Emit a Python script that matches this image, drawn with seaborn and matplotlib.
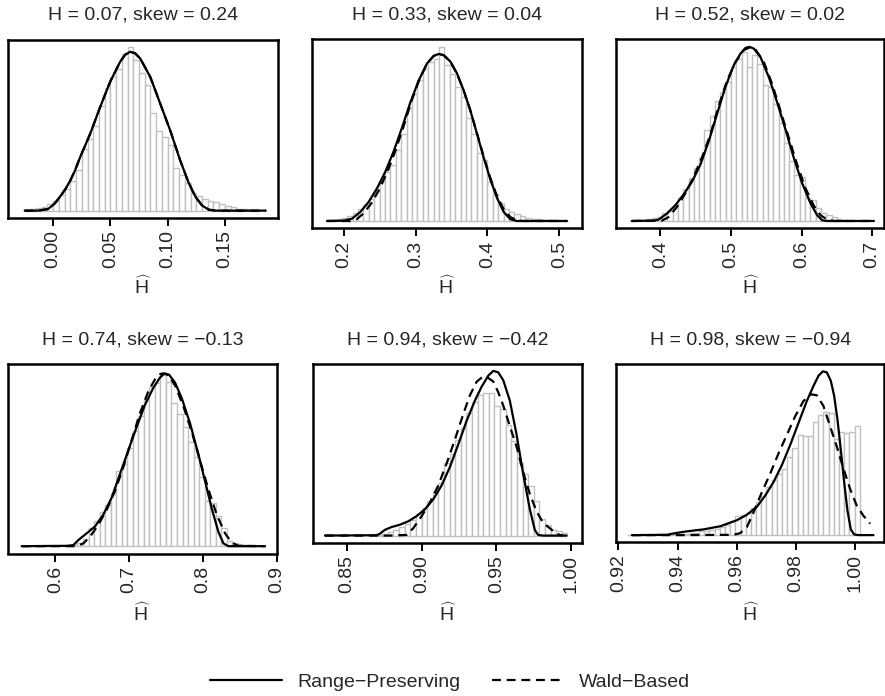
import matplotlib
matplotlib.use("Agg")
import matplotlib.pyplot as plt
import numpy as np
import pandas as pd
import seaborn as sns
from matplotlib.lines import Line2D


# panel titles
H_VALUES = [0.07, 0.33, 0.52, 0.74, 0.94, 0.98]
SKEW_VALUES = [0.24, 0.04, 0.02, -0.13, -0.42, -0.94]

# histogram bars (density, scaled so the tallest mark in a panel is ~100)
hist1_start, hist1_width = -0.025, 0.005
hist1_heights = [0.5, 0.8, 1.5, 2.5, 4, 6, 9.5, 13, 18, 25, 38, 44, 52, 64, 75, 82, 87, 96, 100,
                 92, 84, 77, 60, 49, 45, 40, 26, 22, 17, 11, 9, 7, 6, 5, 4, 3, 2, 1.2, 0.8, 0.5, 0.3]

hist2_start, hist2_width = 0.175, 0.0075
hist2_heights = [0.4, 0.6, 1.0, 1.5, 2.7, 4.6, 6.8, 9.1, 12.6, 17.2, 22.2, 28.4, 32.3, 41.0, 50.1,
                 64.8, 72.9, 80.7, 87.4, 91.3, 93.2, 100, 89.4, 84.5, 76.8, 71.0, 59.4, 49.7, 39.1,
                 35.2, 22.6, 15.3, 10.1, 6.8, 5.2, 4.1, 2.7, 1.9, 1.4, 1.0, 0.8, 0.6, 0.4, 0.2, 0.2]

hist3_start, hist3_width = 0.3575, 0.0075
hist3_heights = [0.4, 0.6, 0.8, 1.0, 1.5, 2.1, 4.3, 5.6, 8.1, 13.0, 18.4, 24.6, 30.4, 36, 52,
                 60.3, 69.1, 73.9, 79.7, 88.4, 93.2, 97.1, 88.4, 95.2, 90.3, 77.8, 77.2, 67.1, 56.5,
                 44.9, 34.6, 26.5, 25.5, 13.3, 12.0, 7.2, 4.3, 3.3, 2.1, 1.4, 0.8]

hist4_start, hist4_width = 0.6225, 0.0075
hist4_heights = [0.6, 1.6, 4.1, 10.3, 14.6, 19.6, 23.9, 30.7, 43.3, 47.2, 56.5, 66.2, 74.4, 83.7,
                 91.5, 93.8, 100, 94.2, 82.1, 75.9, 68.5, 59.8, 51.1, 39.4, 25.8, 24.9, 17.1, 10.3,
                 2.9, 2.1, 1.4, 0.8, 0.4]

hist5_start, hist5_width = 0.87, 0.00375
hist5_heights = [0.4, 0.8, 2.1, 3.5, 5.2, 7.0, 9.5, 13.2, 16.9, 21.1, 26.2, 31.8, 43.8, 49.6, 58.3,
                 65.5, 74.4, 81.4, 85.5, 86.6, 86.6, 78.5, 76.9, 66.9, 57.2, 43.8, 37.6, 30.4, 20.7,
                 10.3, 6.6, 3.5, 2.5, 1.4]

hist6_start, hist6_width = 0.92275, 0.00175
hist6_heights = [0.1, 0.1, 0.2, 0.2, 0.2, 0.3, 0.4, 0.4, 0.5, 0.6, 0.7, 0.9, 1.1, 1.6, 2.3, 2.5,
                 3.1, 3.9, 4.9, 6.2, 8.7, 11.8, 12.4, 13.8, 16.5, 20.0, 24.1, 29.3, 33.4, 37.5,
                 40.6, 47.8, 53.0, 61.2, 60.6, 60.6, 68.9, 73.6, 75.1, 74.6, 58.6, 62.7, 62.3,
                 62.7, 66.4]

# range-preserving density curves
rp1_x = [-0.0249, -0.0132, -0.0044, 0.0015, 0.0059, 0.0103, 0.0147, 0.0190, 0.0234, 0.0322,
         0.0410, 0.0497, 0.0585, 0.0629, 0.0673, 0.0717, 0.0760, 0.0848, 0.0936, 0.1023,
         0.1111, 0.1184, 0.1243, 0.1301, 0.1360, 0.1418, 0.1857]
rp1_y = [0, 0, 1.0, 4.5, 8.5, 12.8, 18.1, 24.5, 32.5, 46.9, 63.4, 78.8, 91.2, 95.5, 97.3, 96.3,
         93.2, 81.9, 65.4, 49.0, 30.5, 17.0, 8.5, 3.1, 0.6, 0, 0]

rp2_x = [0.1768, 0.2, 0.2116, 0.2232, 0.2348, 0.2464, 0.2580, 0.2695, 0.2811, 0.2927, 0.3043,
         0.3159, 0.3252, 0.3321, 0.3391, 0.3484, 0.3576, 0.3669, 0.3762, 0.3855, 0.3947, 0.4040,
         0.4133, 0.4225, 0.4318, 0.4411, 0.5106]
rp2_y = [0, 0.2, 1.35, 5.2, 11.0, 18.8, 28.4, 40.0, 53.6, 68.1, 80.7, 90.5, 94.8, 95.9, 95.2,
         91.5, 84.7, 75.0, 63.4, 49.9, 36.4, 23.8, 13.1, 5.2, 1.0, 0, 0]

rp3_x = [0.3598, 0.3905, 0.3976, 0.4095, 0.4213, 0.4331, 0.4449, 0.4567, 0.4686, 0.4804, 0.4922,
         0.5040, 0.5135, 0.5206, 0.5262, 0.5324, 0.5418, 0.5537, 0.5655, 0.5773, 0.5891, 0.6009,
         0.6128, 0.6222, 0.6293, 0.6364, 0.7026]
rp3_y = [0, 0.2, 0.8, 4.3, 9.1, 15.3, 22.6, 32.3, 45.8, 61.5, 77.0, 89.4, 96.1, 99.4, 100, 99.0,
         94.2, 82.6, 68.1, 52.6, 36.2, 21.7, 10.1, 3.3, 0.4, 0, 0]

rp4_x = [0.5543, 0.6154, 0.6244, 0.6312, 0.6425, 0.6538, 0.6651, 0.6764, 0.6877, 0.6990, 0.7104,
         0.7217, 0.7330, 0.7420, 0.7479, 0.7542, 0.7624, 0.7714, 0.7827, 0.7940, 0.8031, 0.8121,
         0.8212, 0.8280, 0.8347, 0.8845]
rp4_y = [0, 0.2, 0.6, 3.5, 7.4, 11.3, 18.1, 27.8, 41.4, 55.0, 68.5, 81.2, 90.9, 96.7, 99.0, 98.4,
         93.8, 85.0, 70.5, 52.8, 37.3, 21.7, 8.2, 1.6, 0, 0]

rp5_x = [0.8355, 0.8700, 0.8723, 0.8756, 0.8800, 0.8856, 0.8912, 0.8967, 0.9023, 0.9079, 0.9134,
         0.9190, 0.9245, 0.9301, 0.9357, 0.9401, 0.9446, 0.9479, 0.9512, 0.9546, 0.9590, 0.9635,
         0.9679, 0.9724, 0.9757, 0.9779, 0.9813, 0.9969]
rp5_y = [0, 0.2, 1.2, 3.5, 5.2, 6.6, 8.7, 11.8, 16.0, 22.1, 30.4, 41.7, 55.2, 69.6, 82.0, 90.3,
         97.1, 100, 99.2, 94.4, 82.0, 61.4, 37.6, 15.9, 3.5, 0.4, 0, 0]

rp6_x = [0.92456, 0.93637, 0.93919, 0.94313, 0.94875, 0.95438, 0.96001, 0.96338, 0.96676,
         0.96957, 0.97239, 0.97520, 0.97801, 0.98083, 0.98364, 0.98589, 0.98758, 0.98904,
         0.99039, 0.99174, 0.99287, 0.99399, 0.99512, 0.99624, 0.99737, 0.99849, 0.99962,
         1.00108, 1.00615]
rp6_y = [0, 0.2, 1.2, 2.3, 3.5, 5.4, 9.1, 12.4, 17.3, 24.1, 32.4, 42.7, 55.0, 68.5, 81.9, 91.1,
         97.3, 100, 99.4, 94.2, 85.0, 70.5, 52.0, 32.4, 14.8, 3.5, 0.4, 0, 0]

# wald-based density curves
wald1_x = list(rp1_x)
wald1_y = list(rp1_y)

wald2_x = [0.1768, 0.2093, 0.2180, 0.2280, 0.2390, 0.2500, 0.2610, 0.2720, 0.2830, 0.2940,
           0.3050, 0.3160, 0.3252, 0.3321, 0.3391, 0.3484, 0.3576, 0.3669, 0.3762, 0.3855,
           0.3947, 0.4040, 0.4133, 0.4225, 0.4318, 0.4411, 0.4480, 0.5106]
wald2_y = [0, 0, 1.0, 4.5, 10.5, 18.5, 28.5, 40.5, 54.0, 68.5, 81.0, 90.5, 94.8, 95.9, 95.2,
           91.5, 84.5, 74.8, 63.4, 50.2, 37.0, 24.6, 14.2, 6.8, 2.2, 0.4, 0, 0]

wald3_x = [0.3598, 0.4024, 0.4118, 0.4236, 0.4355, 0.4473, 0.4591, 0.4709, 0.4827, 0.4946,
           0.5064, 0.5182, 0.5262, 0.5348, 0.5466, 0.5584, 0.5702, 0.5820, 0.5939, 0.6057,
           0.6175, 0.6270, 0.6364, 0.6459, 0.7026]
wald3_y = [0, 0.2, 2.3, 8.1, 15.9, 25.5, 36.6, 49.7, 66.2, 80.7, 91.3, 98.1, 99.6, 98.5, 91.3,
           78.7, 63.3, 47.8, 32.3, 18.8, 8.7, 3.3, 0.8, 0, 0]

wald4_x = [0.5543, 0.6289, 0.6380, 0.6470, 0.6583, 0.6697, 0.6810, 0.6923, 0.7036, 0.7149,
           0.7262, 0.7352, 0.7420, 0.7465, 0.7533, 0.7624, 0.7737, 0.7850, 0.7963, 0.8076,
           0.8189, 0.8302, 0.8392, 0.8483, 0.8845]
wald4_y = [0, 0, 1.6, 5.4, 12.2, 20.9, 31.7, 45.4, 60.9, 76.5, 88.9, 95.7, 98.6, 99.0, 98.1,
           92.2, 80.2, 65.6, 49.1, 32.6, 18.1, 7.4, 2.1, 0.2, 0]

wald5_x = [0.8355, 0.8789, 0.8901, 0.8945, 0.9001, 0.9056, 0.9112, 0.9168, 0.9223, 0.9279,
           0.9323, 0.9368, 0.9412, 0.9446, 0.9479, 0.9512, 0.9546, 0.9590, 0.9635, 0.9679,
           0.9724, 0.9768, 0.9813, 0.9857, 0.9891, 0.9924, 0.9946]
wald5_y = [0, 0, 0.4, 4.5, 11.8, 20.0, 30.4, 43.8, 58.3, 73.8, 85.1, 93.4, 96.7, 95.7, 93.6,
           87.2, 79.0, 66.5, 54.1, 38.6, 25.2, 14.9, 7.6, 4.5, 1.9, 0.4, 0]

wald6_x = [0.92456, 0.94313, 0.95888, 0.96113, 0.96338, 0.96563, 0.96845, 0.97126, 0.97407,
           0.97689, 0.97970, 0.98251, 0.98499, 0.98701, 0.98926, 0.99151, 0.99376, 0.99601,
           0.99826, 1.00051, 1.00276, 1.00501]
wald6_y = [0, 0, 0.2, 1.2, 4.9, 13.8, 26.2, 37.5, 49.9, 61.2, 72.6, 81.9, 86.0, 85.4, 78.8,
           66.4, 54.0, 40.6, 28.2, 17.9, 11.8, 7.0]

# x axes
ticks1 = [0.00, 0.05, 0.10, 0.15]
tick_labels1 = ["0.00", "0.05", "0.10", "0.15"]
ticks2 = [0.2, 0.3, 0.4, 0.5]
tick_labels2 = ["0.2", "0.3", "0.4", "0.5"]
ticks3 = [0.4, 0.5, 0.6, 0.7]
tick_labels3 = ["0.4", "0.5", "0.6", "0.7"]
ticks4 = [0.6, 0.7, 0.8, 0.9]
tick_labels4 = ["0.6", "0.7", "0.8", "0.9"]
ticks5 = [0.85, 0.90, 0.95, 1.00]
tick_labels5 = ["0.85", "0.90", "0.95", "1.00"]
ticks6 = [0.92, 0.94, 0.96, 0.98, 1.00]
tick_labels6 = ["0.92", "0.94", "0.96", "0.98", "1.00"]

LEGEND_LABELS = ["Range\u2212Preserving", "Wald\u2212Based"]


# layout in pixels: left, right, top, bottom of each plot box
W, H = 885, 696
BOXES = [
    (8, 277.5, 40, 217.5),
    (312, 582.4, 39, 228.3),
    (616.3, 884.3, 39, 228.3),
    (8, 276.5, 364, 553.5),
    (312.7, 582.4, 363.5, 542.5),
    (616.3, 884.3, 364, 542),
]
XLIMS = [(-0.0395, 0.196), (0.1559, 0.532), (0.3376, 0.7173),
         (0.5358, 0.9), (0.8273, 1.0075), (0.9193, 1.0098)]
TITLE_Y = [15, 15, 15, 340, 340, 340]
XLABEL_Y = [287, 287, 287, 614, 614, 614]
DASH = (0, (4, 2.6))
FONT_SIZE = 14


def fmt_title(h, skew):
    return f"H = {h:.2f}, skew = {skew:.2f}".replace("-", "\u2212")


def draw_panel(fig, index, start, width, heights, rp_x, rp_y, wald_x, wald_y, ticks, tick_labels):
    left, right, top, bottom = BOXES[index]
    ax = fig.add_axes([left / W, 1 - bottom / H, (right - left) / W, (bottom - top) / H])

    edges = start + width * np.arange(len(heights) + 1)
    bars = pd.DataFrame({"h_hat": edges[:-1] + width / 2, "density": heights})
    sns.histplot(
        data=bars,
        x="h_hat",
        weights="density",
        bins=edges.tolist(),
        stat="count",
        color="white",
        edgecolor="#c0c0c0",
        linewidth=1,
        alpha=1,
        ax=ax,
    )
    sns.lineplot(x=wald_x, y=wald_y, sort=False, estimator=None, color="black",
                 linewidth=1.6, linestyle=DASH, ax=ax, zorder=3)
    sns.lineplot(x=rp_x, y=rp_y, sort=False, estimator=None, color="black",
                 linewidth=1.6, ax=ax, zorder=4)

    ax.set_xlim(*XLIMS[index])
    ax.set_ylim(-4.2, 104.5)
    ax.set_yticks([])
    ax.set_xticks(ticks)
    ax.set_xticklabels(tick_labels, rotation=90, fontsize=FONT_SIZE)
    ax.set_xlabel("")
    ax.set_ylabel("")
    ax.tick_params(axis="x", bottom=True, direction="out", length=6, width=1.4,
                   color="black", pad=3)
    for spine in ax.spines.values():
        spine.set_visible(True)
        spine.set_color("black")
        spine.set_linewidth(1.8)

    center_x = (left + right) / 2 / W
    fig.text(center_x, 1 - TITLE_Y[index] / H, fmt_title(H_VALUES[index], SKEW_VALUES[index]),
             ha="center", va="center", fontsize=FONT_SIZE)
    fig.text(center_x, 1 - XLABEL_Y[index] / H, r"$\widehat{\mathrm{H}}$",
             ha="center", va="center", fontsize=FONT_SIZE)
    return ax


def main():
    sns.set_theme(style="white")
    plt.rcParams["font.family"] = ["Liberation Sans", "DejaVu Sans"]
    plt.rcParams["mathtext.fontset"] = "custom"
    plt.rcParams["mathtext.rm"] = "Liberation Sans"
    plt.rcParams["mathtext.it"] = "Liberation Sans"

    fig = plt.figure(figsize=(W / 100, H / 100), dpi=100)

    panels = [
        (hist1_start, hist1_width, hist1_heights, rp1_x, rp1_y, wald1_x, wald1_y, ticks1, tick_labels1),
        (hist2_start, hist2_width, hist2_heights, rp2_x, rp2_y, wald2_x, wald2_y, ticks2, tick_labels2),
        (hist3_start, hist3_width, hist3_heights, rp3_x, rp3_y, wald3_x, wald3_y, ticks3, tick_labels3),
        (hist4_start, hist4_width, hist4_heights, rp4_x, rp4_y, wald4_x, wald4_y, ticks4, tick_labels4),
        (hist5_start, hist5_width, hist5_heights, rp5_x, rp5_y, wald5_x, wald5_y, ticks5, tick_labels5),
        (hist6_start, hist6_width, hist6_heights, rp6_x, rp6_y, wald6_x, wald6_y, ticks6, tick_labels6),
    ]
    for index, panel in enumerate(panels):
        draw_panel(fig, index, *panel)

    handles = [
        Line2D([], [], color="black", linewidth=1.6),
        Line2D([], [], color="black", linewidth=1.6, linestyle=DASH),
    ]
    fig.legend(
        handles,
        LEGEND_LABELS,
        loc="center",
        bbox_to_anchor=(450 / W, 1 - 682 / H),
        ncol=2,
        frameon=False,
        fontsize=FONT_SIZE,
        handlelength=3.7,
        handletextpad=0.8,
        columnspacing=1.6,
    )

    fig.savefig("out.png", dpi=100)
    plt.close(fig)


if __name__ == "__main__":
    main()
